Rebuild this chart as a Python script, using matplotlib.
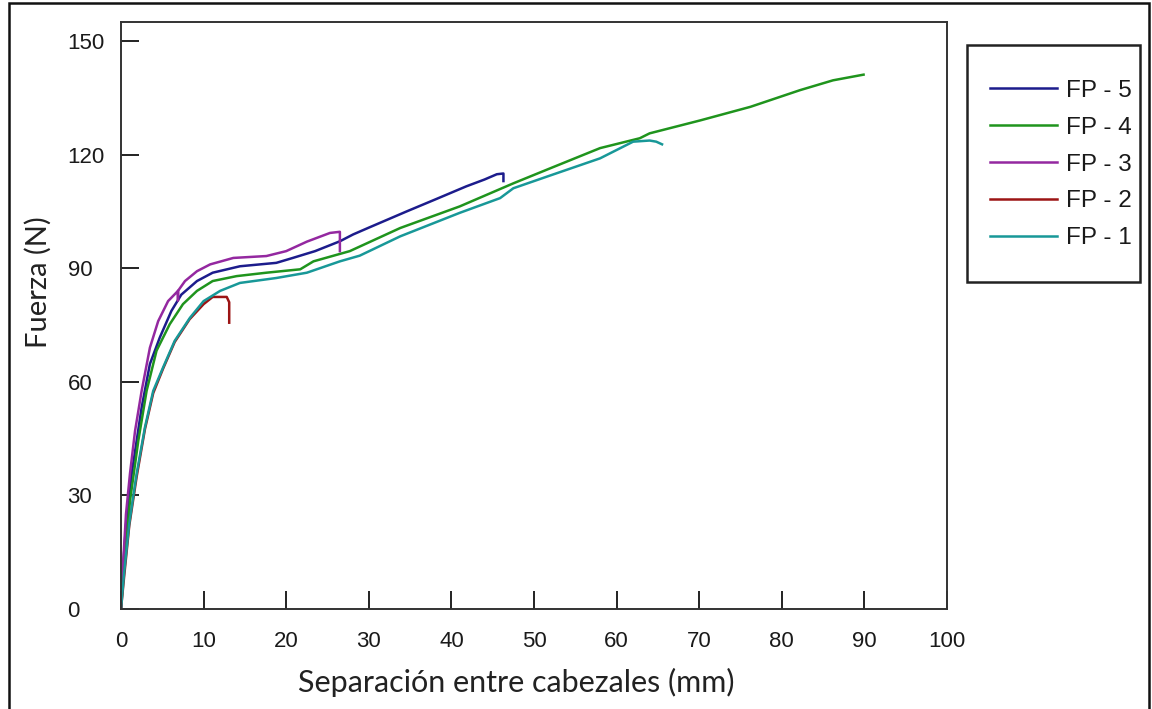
import matplotlib
matplotlib.use('Agg')
import matplotlib.pyplot as plt
from matplotlib.patches import Rectangle

# Datos (separacion en mm, fuerza en N)
fp5_x = [0, 0.1, 0.2, 0.6, 1.3, 2.5, 3.5, 4.7, 6.1, 7.3, 9.2, 11.1, 14.4, 18.8, 20.8, 23.5, 26.5, 28.1, 30, 34.6, 38, 41.8, 44, 45.5, 46.3, 46.3]
fp5_y = [0, 5, 9.4, 22, 35.8, 53.2, 64.7, 71.7, 78.7, 83, 86.6, 88.8, 90.5, 91.4, 92.7, 94.5, 97.1, 98.9, 100.7, 105, 108.1, 111.6, 113.4, 114.8, 115, 113]

fp4_x = [0, 0.3, 1.1, 2.1, 3.1, 4.3, 5.9, 7.5, 9.2, 11.1, 14, 17.6, 21.7, 23.3, 27.7, 33.8, 41, 47.5, 52, 58, 62.8, 64, 70.1, 76.2, 82.2, 86.2, 89.9]
fp4_y = [0, 9.4, 28.7, 44.5, 57.6, 68.2, 75.2, 80.5, 84, 86.6, 87.9, 88.8, 89.7, 91.8, 94.5, 100.6, 106.3, 112.4, 116.4, 121.7, 124.3, 125.6, 129, 132.6, 137, 139.6, 141.1]

fp3_x = [0, 0.28, 0.6, 1.09, 1.7, 2.5, 3.5, 4.5, 5.7, 6.9, 6.9, 6.9, 7.75, 9.2, 10.8, 13.6, 17.6, 20, 21.7, 22.5, 25.3, 26.5, 26.5]
fp3_y = [0, 12.9, 25, 35.8, 47, 57.6, 69, 76, 81.3, 84, 81.5, 84, 86.6, 89.2, 91, 92.7, 93.2, 94.5, 96.2, 97, 99.3, 99.6, 94.5]

fp2_x = [0, 0.4, 1.0, 1.9, 2.9, 3.9, 5.1, 6.5, 8.3, 10.0, 11.1, 12.8, 13.1, 13.1]
fp2_y = [0, 9, 22, 35, 47.5, 57, 63.5, 70.5, 76.5, 80.5, 82.4, 82.4, 81, 75.6]

fp1_x = [0, 0.37, 1.0, 1.9, 2.9, 3.9, 5.1, 6.5, 8.35, 10, 12, 14.4, 18.8, 22.5, 26.5, 28.9, 33.8, 41, 45.9, 47.5, 52, 58, 62, 64, 64.8, 65.5]
fp1_y = [0, 9.4, 22.6, 35.8, 48, 57.6, 63.8, 70.8, 76.9, 81.3, 84, 86.1, 87.4, 88.8, 91.8, 93.3, 98.4, 104.6, 108.5, 111.1, 114.5, 119, 123.4, 123.7, 123.4, 122.7]

series = [
    ('FP - 5', fp5_x, fp5_y, '#1c1c8c'),
    ('FP - 4', fp4_x, fp4_y, '#1f941d'),
    ('FP - 3', fp3_x, fp3_y, '#9428a0'),
    ('FP - 2', fp2_x, fp2_y, '#9c1414'),
    ('FP - 1', fp1_x, fp1_y, '#189898'),
]

narrow = ['Liberation Sans Narrow', 'Liberation Sans', 'DejaVu Sans']

fig = plt.figure(figsize=(11.52, 7.09), dpi=100)
ax = fig.add_axes([121/1152, 1 - 609/709, 826/1152, 587/709])

for label, xs, ys, c in series:
    ax.plot(xs, ys, color=c, lw=1.8, label=label)

ax.set_xlim(0, 100)
ax.set_ylim(0, 155)
ax.set_xticks(range(0, 101, 10))
ax.set_yticks(range(0, 151, 30))
ax.tick_params(direction='in', length=13, width=1.4, color='#222222', labelsize=16, labelcolor='#1a1a1a')
ax.tick_params(axis='x', pad=16)
ax.tick_params(axis='y', pad=38.5)
for lab in ax.get_xticklabels() + ax.get_yticklabels():
    lab.set_family(narrow)
for lab in ax.get_yticklabels():
    lab.set_horizontalalignment('left')
for s in ax.spines.values():
    s.set_linewidth(1.4)
    s.set_color('#333333')

ax.set_xlabel('Separación entre cabezales (mm)', family='Lato', fontsize=22, color='#222222')
ax.set_ylabel('Fuerza (N)', family='Lato', fontsize=21, color='#222222')
ax.xaxis.set_label_coords((516.5 - 121)/826, (609 - 668)/587)
ax.yaxis.set_label_coords((52 - 121)/826, (609 - 282)/587)

# Caja de la leyenda dibujada aparte
ax.add_patch(Rectangle(((967-121)/826, (609-282)/587), (1140-967)/826, (282-45)/587,
                       transform=ax.transAxes, fill=False, lw=1.8, ec='#222222', clip_on=False))
leg = ax.legend(loc='center left', bbox_to_anchor=((990 - 121)/826, (609 - 164.5)/587),
                frameon=False, borderpad=0, borderaxespad=0,
                handlelength=2.76, handletextpad=0.37, labelspacing=0.615,
                prop={'family': narrow, 'size': 17.5})
for t in leg.get_texts():
    t.set_color('#1a1a1a')

# Marco de la figura
fig.add_artist(Rectangle((9/1152, -0.01), 1140/1152, 1 - 3/709 + 0.01, transform=fig.transFigure,
                         fill=False, lw=1.8, ec='#111111'))

plt.savefig('out.png', dpi=100)
